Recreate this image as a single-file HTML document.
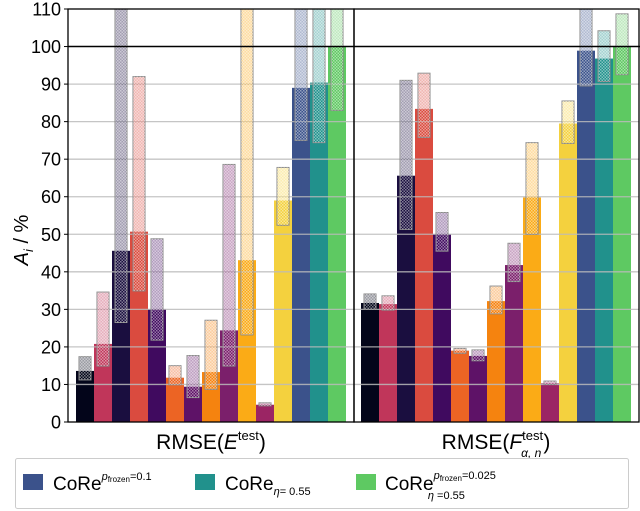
<!DOCTYPE html>
<html><head><meta charset="utf-8">
<style>
html,body{margin:0;padding:0;background:#fff;}
svg{display:block;font-family:"Liberation Sans",sans-serif;}
</style></head>
<body>
<svg id="chart" width="640" height="511" viewBox="0 0 640 511">
<defs>
<pattern id="hatch" width="3" height="3" patternUnits="userSpaceOnUse">
<rect x="0" y="0" width="1.5" height="1.5" fill="#fff" fill-opacity="0.45"/>
<rect x="1.5" y="1.5" width="1.5" height="1.5" fill="#fff" fill-opacity="0.45"/>
</pattern>
<clipPath id="clipL"><rect x="68" y="9" width="286" height="413"/></clipPath>
<clipPath id="clipR"><rect x="354" y="9" width="285" height="413"/></clipPath>
</defs>
<g id="gridL"></g>
<g id="plot"></g>
<g id="axes"></g>
<text x="211" y="449" font-size="21" text-anchor="middle">RMSE(<tspan font-style="italic">E</tspan><tspan font-size="13" dy="-9">test</tspan><tspan dy="9">)</tspan></text>
<text x="496" y="449" font-size="21" text-anchor="middle">RMSE(<tspan font-style="italic">F</tspan><tspan font-size="13" dy="-9">test</tspan><tspan font-size="12" font-style="italic" dx="-22" dy="17">α, n</tspan><tspan dy="-8" dx="2">)</tspan></text>
<text transform="translate(28,240) rotate(-90)" font-size="20" text-anchor="middle"><tspan font-style="italic">A</tspan><tspan font-size="13" font-style="italic" dy="5">i</tspan><tspan dy="-5"> / %</tspan></text>
<g>
<rect x="15.5" y="458.5" width="613" height="50" fill="#fff" stroke="#ccc" rx="2"/>
<g>
<rect x="23" y="474" width="20" height="16" fill="#3b528b"/>
<text x="53" y="490" font-size="19">CoRe<tspan font-size="11" font-style="italic" dy="-10">p</tspan><tspan font-size="8" dy="2">frozen</tspan><tspan font-size="11" dy="-2">=0.1</tspan></text>
</g>
<g>
<rect x="195" y="474" width="20" height="16" fill="#21918c"/>
<text x="225" y="490" font-size="19">CoRe<tspan font-size="11" font-style="italic" dy="5">η</tspan><tspan font-size="11">=  0.55</tspan></text>
</g>
<g>
<rect x="356" y="474" width="20" height="16" fill="#5ec962"/>
<text x="385" y="490" font-size="19">CoRe<tspan font-size="11" font-style="italic" dy="-11">p</tspan><tspan font-size="8" dy="2">frozen</tspan><tspan font-size="11" dy="-2">=0.025</tspan><tspan font-size="11" font-style="italic" dx="-68" dy="20">η</tspan><tspan font-size="11"> =0.55</tspan></text>
</g>
</g>
</svg>
<script>
const colors = ["#03051a","#c0365a","#1a0e3f","#da4b3f","#400a5f","#ec6424","#5e1267","#f5830f","#7b1f6b","#fbab16","#9b2564","#f4d13e","#3b528b","#21918c","#5ec962"];
const energyValues = [13.6,20.8,45.6,50.7,30.1,11.8,9.4,13.3,24.4,43.1,4.6,59,89,90.4,100];
const energyLow = [11.2,14.9,26.5,34.9,21.8,9.9,6.5,8.7,14.9,23.2,4.3,52.4,75,74.4,83];
const energyHigh = [17.4,34.6,115,92,48.8,15,17.7,27.1,68.6,115,5.1,67.8,115,115,115];
const forceValues = [31.7,31.4,65.6,83.4,50,19,17.6,32.2,41.8,59.8,10.3,79.5,98.9,96.8,100];
const forceLow = [30,29.8,51.3,75.8,45.5,18.3,16.3,28.8,37.4,50,10,74.2,89.5,90.7,92.5];
const forceHigh = [34.1,33.6,91,92.9,55.8,19.6,19.2,36.2,47.6,74.4,10.9,85.5,115,104.2,108.7];
const yTicks = [0,10,20,30,40,50,60,70,80,90,100,110];

const NS = "http://www.w3.org/2000/svg";
const y0 = 422, yTop = 9, yMax = 110;
const yScale = v => y0 - v * (y0 - yTop) / yMax;
const barW = 18;
const panels = [
  {x0:76, clip:"clipL", vals:energyValues, lo:energyLow, hi:energyHigh, name:"energy"},
  {x0:361, clip:"clipR", vals:forceValues, lo:forceLow, hi:forceHigh, name:"forces"}
];
function mk(tag, attrs, parent){
  const e = document.createElementNS(NS, tag);
  for (const k in attrs) e.setAttribute(k, attrs[k]);
  parent.appendChild(e);
  return e;
}
const plot = document.getElementById("plot");
const axes = document.getElementById("axes");
panels.forEach(p => {
  const g = mk("g", {"clip-path":"url(#"+p.clip+")"}, plot);
  
  
  p.vals.forEach((v, i) => {
    const x = p.x0 + i * barW;
    const r = mk("rect", {x:x, y:yScale(v), width:barW, height:y0 - yScale(v), fill:colors[i]}, g);
    
    
  });
  // gridlines over bars
  yTicks.forEach(t => {
    if (t === 0 || t === 110 || t === 100) return;
    const l = mk("line", {x1:60, x2:640, y1:yScale(t), y2:yScale(t), stroke:"#bbb", "stroke-width":1.3, "stroke-opacity":0.85}, g);
    
    
  });
  p.vals.forEach((v, i) => {
    const x = p.x0 + i * barW + 3;
    const top = yScale(p.hi[i]), bot = yScale(p.lo[i]);
    const b = mk("rect", {x:x, y:top, width:12, height:bot - top, fill:colors[i], "fill-opacity":0.4, stroke:"#888", "stroke-width":1}, g);
    
    
    const h = mk("rect", {x:x, y:top, width:12, height:bot - top, fill:"url(#hatch)"}, g);
    
    
  });
});
// reference line at 100
const ref = mk("line", {x1:68, x2:640, y1:yScale(100), y2:yScale(100), stroke:"#000", "stroke-width":1.5}, axes);


// frames
[[68,354],[354,639]].forEach((f, k) => {
  const r = mk("rect", {x:f[0], y:yTop, width:f[1]-f[0], height:y0-yTop, fill:"none", stroke:"#000", "stroke-width":1.3}, axes);
  
  
});
yTicks.forEach(t => {
  const tk = mk("line", {x1:64, x2:68, y1:yScale(t), y2:yScale(t), stroke:"#000", "stroke-width":1}, axes);
  
  
  const tx = mk("text", {x:61, y:yScale(t) + 6.5, "font-size":18, "text-anchor":"end"}, axes);
  tx.textContent = t;
  
  
});
</script>
</body></html>
